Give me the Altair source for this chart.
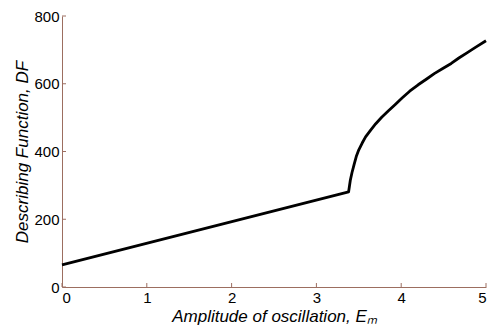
import altair as alt
import pandas as pd

# Curve
amp = [0.0, 3.38, 3.39, 3.40, 3.42, 3.445, 3.47, 3.50, 3.54, 3.58, 3.64, 3.70, 3.77, 3.85, 3.93,
       4.01, 4.10, 4.20, 4.30, 4.39, 4.49, 4.59, 4.68, 4.78, 4.88, 5.0]
df_vals = [65, 281, 298, 315, 338, 362, 385, 405, 425, 443, 463, 482, 501, 520, 539,
           558, 578, 597, 614, 630, 645, 660, 676, 692, 708, 727]

x_ticks = [0, 1, 2, 3, 4, 5]
y_ticks = [0, 200, 400, 600, 800]

W, H = 424, 271
AXIS_COLOR = "#9c6e60"
FONT = "Liberation Sans"

data = pd.DataFrame({"amp": amp, "df": df_vals})
xt = pd.DataFrame({"t": x_ticks})
yt = pd.DataFrame({"t": y_ticks})

xscale = alt.Scale(domain=[0, 5], nice=False)
yscale = alt.Scale(domain=[0, 800], nice=False)

line = alt.Chart(data).mark_line(color="black", strokeWidth=2.8, strokeJoin="round").encode(
    x=alt.X("amp:Q", scale=xscale,
            axis=alt.Axis(values=x_ticks, format="d", title="Amplitude of oscillation, Eₘ", grid=False,
                          tickSize=0, labelPadding=3, titlePadding=3,
                          domainColor=AXIS_COLOR, labelFontSize=15, labelColor="black",
                          labelFont=FONT, titleFont=FONT, titleFontSize=17,
                          titleFontStyle="italic", titleFontWeight="normal", titleColor="black")),
    y=alt.Y("df:Q", scale=yscale,
            axis=alt.Axis(values=y_ticks, format="d", title="Describing Function, DF", grid=False,
                          tickSize=0, labelPadding=3, titlePadding=2,
                          domainColor=AXIS_COLOR, labelFontSize=15, labelColor="black",
                          labelFont=FONT, titleFont=FONT, titleFontSize=17,
                          titleFontStyle="italic", titleFontWeight="normal", titleColor="black")),
)

xtick_marks = alt.Chart(xt).mark_rule(color=AXIS_COLOR, strokeWidth=1).encode(
    x=alt.X("t:Q", scale=xscale), y=alt.value(H), y2=alt.value(H - 4)
)
ytick_marks = alt.Chart(yt).mark_rule(color=AXIS_COLOR, strokeWidth=1).encode(
    y=alt.Y("t:Q", scale=yscale), x=alt.value(0), x2=alt.value(4)
)

chart = alt.layer(xtick_marks, ytick_marks, line).properties(
    width=W, height=H,
    autosize=alt.AutoSizeParams(type="none"),
    padding={"left": 54, "top": 8, "right": 6, "bottom": 40},
    background="white",
).configure_view(stroke=None)

chart.save("out.html", embed_options={"renderer": "svg", "actions": False})
